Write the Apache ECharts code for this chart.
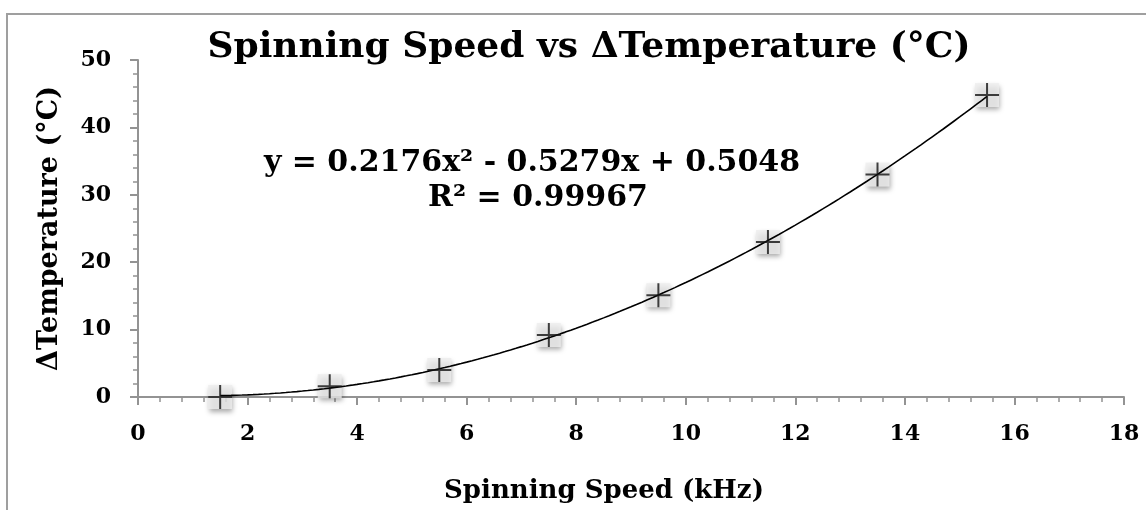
<!DOCTYPE html>
<html>
<head>
<meta charset="utf-8">
<title>Spinning Speed vs ΔTemperature</title>
<script src="https://cdn.jsdelivr.net/npm/echarts@6/dist/echarts.min.js"></script>
<style>
  html, body { margin: 0; padding: 0; background: #ffffff; }
  #chart { width: 1146px; height: 510px; }
</style>
</head>
<body>
<div id="chart"></div>
<script>
// Measured points: spinning speed (kHz) and temperature rise (°C)
const spinningSpeed = [1.5, 3.5, 5.5, 7.5, 9.5, 11.5, 13.5, 15.5];
const deltaTemperature = [0, 1.6, 4.0, 9.2, 15.1, 23.0, 33.0, 44.8];

// Second-order polynomial fit: a*x^2 + b*x + c
const fitCoefficients = [0.2176, -0.5279, 0.5048];
const fitR2 = '0.99967';

// Axis ranges and tick steps
const xRange = [0, 18];
const xStep = 2;
const yRange = [0, 50];
const yStep = 10;

const FONT = 'DejaVu Serif';
const AXIS_GRAY = '#939393';

// Trendline sampled along the measured span
const fitLine = [];
const x0 = spinningSpeed[0];
const x1 = spinningSpeed[spinningSpeed.length - 1];
const steps = 140;
for (let i = 0; i <= steps; i++) {
  const x = x0 + (x1 - x0) * i / steps;
  const [a, b, c] = fitCoefficients;
  fitLine.push([x, a * x * x + b * x + c]);
}

const points = spinningSpeed.map((x, i) => [x, deltaTemperature[i]]);

const fmt = v => Math.abs(v).toFixed(4);
const [ca, cb, cc] = fitCoefficients;
const equationText = 'y = ' + fmt(ca) + 'x² ' + (cb < 0 ? '- ' : '+ ') + fmt(cb) +
  'x ' + (cc < 0 ? '- ' : '+ ') + fmt(cc);
const r2Text = 'R² = ' + fitR2;

const chart = echarts.init(document.getElementById('chart'), null, { renderer: 'canvas' });

const axisCommon = {
  type: 'value',
  axisLine: { show: true, lineStyle: { color: AXIS_GRAY, width: 2 } },
  axisTick: { show: true, inside: false, length: 8, lineStyle: { color: AXIS_GRAY, width: 2 } },
  minorTick: { show: true, splitNumber: 5, length: 5, lineStyle: { color: AXIS_GRAY, width: 1.5 } },
  splitLine: { show: false },
  minorSplitLine: { show: false },
  nameLocation: 'middle'
};

const labelStyle = { fontFamily: FONT, fontWeight: 'bold', fontSize: 22, color: '#000' };
const nameStyle = { fontFamily: FONT, fontWeight: 'bold', fontSize: 26, color: '#000' };

chart.setOption({
  animation: false,
  backgroundColor: '#ffffff',
  grid: { left: 138, top: 60, right: 22, bottom: 113, containLabel: false },
  xAxis: Object.assign({}, axisCommon, {
    min: xRange[0], max: xRange[1], interval: xStep,
    name: 'Spinning Speed (kHz)',
    nameGap: 81,
    nameTextStyle: Object.assign({}, nameStyle, { padding: [0, 54, 0, 0] }),
    axisLabel: Object.assign({ margin: 26 }, labelStyle)
  }),
  yAxis: Object.assign({}, axisCommon, {
    min: yRange[0], max: yRange[1], interval: yStep,
    name: 'ΔTemperature (°C)',
    nameGap: 75,
    nameRotate: 90,
    nameTextStyle: Object.assign({}, nameStyle, { fontSize: 27 }),
    axisLabel: Object.assign({ margin: 27 }, labelStyle)
  }),
  graphic: [
    {
      type: 'rect', silent: true, z: -10,
      shape: { x: 7, y: 14, width: 1300, height: 700 },
      style: { fill: 'none', stroke: '#9f9f9f', lineWidth: 2 }
    },
    {
      type: 'text', silent: true,
      style: {
        x: 589, y: 48, text: 'Spinning Speed vs ΔTemperature (°C)',
        align: 'center', verticalAlign: 'middle',
        font: 'bold 36px "DejaVu Serif"', fill: '#000'
      }
    },
    {
      type: 'text', silent: true, z: 5,
      style: {
        x: 532, y: 163, text: equationText,
        align: 'center', verticalAlign: 'middle',
        font: 'bold 30px "DejaVu Serif"', fill: '#000'
      }
    },
    {
      type: 'text', silent: true, z: 5,
      style: {
        x: 538, y: 198, text: r2Text,
        align: 'center', verticalAlign: 'middle',
        font: 'bold 30px "DejaVu Serif"', fill: '#000'
      }
    }
  ],
  series: [
    {
      // light squares with soft drop shadow behind each marker
      type: 'scatter',
      data: points,
      symbol: 'rect',
      symbolSize: 24,
      z: 1,
      silent: true,
      itemStyle: {
        color: '#ededed',
        shadowColor: 'rgba(0,0,0,0.42)',
        shadowBlur: 5,
        shadowOffsetX: 1,
        shadowOffsetY: 3
      }
    },
    {
      type: 'line',
      data: fitLine,
      showSymbol: false,
      smooth: false,
      z: 2,
      lineStyle: { color: '#000', width: 1.6 }
    },
    {
      type: 'scatter',
      data: points,
      symbol: 'path://M11,0H13V11H24V13H13V24H11V13H0V11H11Z',
      symbolSize: 24,
      z: 3,
      itemStyle: { color: '#111' }
    }
  ]
});
</script>
</body>
</html>
